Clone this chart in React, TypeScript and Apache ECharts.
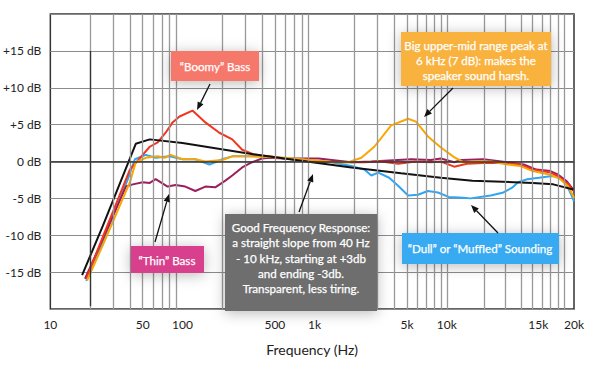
import React, { useEffect, useRef } from "react";
import * as echarts from "echarts";

// ---- axis layout helpers (log scale up to 10 kHz, compressed segment to 20 kHz) ----
const POS_10K = 4;
const POS_15K = 4 + 92 / 133;
const POS_20K_RAW = 4 + 128 / 133;

function pos(f: number): number {
  if (f <= 10000) return Math.log10(f);
  if (f <= 15000) return POS_10K + ((f - 10000) / 5000) * (POS_15K - POS_10K);
  return POS_15K + ((f - 15000) / 5000) * (POS_20K_RAW - POS_15K);
}

// ---- tick labels ----
const tickFreqs = [10, 50, 100, 500, 1000, 5000, 10000, 15000, 20000];
const tickLabels = ["10", "50", "100", "500", "1k", "5k", "10k", "15k", "20k"];
const yTicks = [-15, -10, -5, 0, 5, 10, 15];

// ---- series data: [frequency Hz, dB] ----
const goodCurve: [number, number][] = [
  [17.4, -15.4], [25, -8.7], [44.3, 2.4], [56.5, 3.0], [100, 2.5], [400, 0.8],
  [1898, -0.8], [4510, -1.6], [9000, -2.2], [11400, -2.6], [14700, -2.9],
  [17100, -3.1], [19900, -3.8],
];
const boomyCurve: [number, number][] = [
  [18.7, -15.9], [25, -10.2], [40, -1.1], [50, 0.9], [56.5, 2.0], [64.9, 2.6],
  [74.5, 3.9], [79.9, 4.7], [84.1, 5.3], [94.9, 6.1], [119, 6.9], [149, 5.3],
  [190, 3.9], [238, 3.0], [283, 1.6], [354, 0.9], [451, 0.7], [672, 0.3],
  [949, 0], [1898, -0.1], [2377, -0.1], [3190, 0], [4281, -0.3], [5848, 0],
  [7580, -0.1], [9015, 0], [10400, -0.7], [11100, -0.3], [12000, -0.2],
  [13300, -0.2], [14000, -0.4], [14700, -1.1], [16700, -1.5], [17800, -2.0],
  [19200, -3.1], [19900, -4.0],
];
const thinCurve: [number, number][] = [
  [18.3, -15.9], [25, -10.5], [37.3, -3.4], [42.1, -3.1], [50, -2.8], [56.5, -2.9],
  [62.7, -2.4], [77.1, -3.4], [88.6, -3.2], [105, -3.4], [125, -4.0], [149, -3.4],
  [177, -3.5], [211, -2.6], [238, -1.9], [283, -0.8], [336, -0.1], [400, 0.4],
  [451, 0.5], [595, 0.4], [1072, 0.4], [1898, -0.1], [2683, 0], [5362, 0.3],
  [7580, 0.2], [9015, 0.4], [10400, -0.1], [10800, 0.2], [12000, 0.3],
  [13300, -0.1], [14200, -0.4], [14900, -1.1], [16700, -1.3], [17800, -1.8],
  [19000, -2.7], [19900, -3.8],
];
const dullCurve: [number, number][] = [
  [18.7, -16.2], [25, -10.8], [38.6, -2.4], [43.6, 0.3], [52.7, 0.9], [62.7, 0.5],
  [79.9, 0.7], [100, 0.3], [125, 0.3], [160, -0.4], [200, 0.3], [238, 0.7],
  [319, 0.7], [400, 0.7], [595, 0.4], [799, 0.2], [1072, 0], [1342, -0.1],
  [1898, -0.6], [2377, -1.1], [2683, -1.9], [3028, -1.5], [3664, -2.2],
  [4281, -3.3], [5092, -4.6], [6053, -4.5], [7197, -4.0], [8557, -4.2],
  [10100, -4.8], [10900, -4.9], [11300, -5.0], [12400, -4.6], [13100, -4.2],
  [13600, -3.5], [13900, -2.8], [14400, -2.4], [15100, -2.2], [16700, -2.0],
  [17600, -2.0], [18800, -2.8], [19700, -4.7], [20000, -5.4],
];
const harshCurve: [number, number][] = [
  [19.0, -16.1], [25, -11.3], [40, -2.8], [44.3, -0.1], [52.7, 0.5], [64.9, 0.7],
  [73.2, 0.5], [81.2, 0.9], [100, 0.3], [125, 0.3], [149, 0], [200, 0.2],
  [238, 0.7], [319, 0.7], [595, 0.5], [1072, 0.1], [1414, -0.1], [1801, -0.1],
  [2256, 0.5], [2826, 2.0], [3793, 4.9], [5092, 5.8], [5848, 5.4], [7197, 3.4],
  [9015, 1.9], [10400, 0.6], [10900, -0.1], [11400, 0], [12400, 0], [13300, -0.4],
  [14000, -0.6], [14700, -1.3], [16700, -1.8], [18100, -2.4], [19200, -3.4],
  [19900, -4.7], [20000, -5.0],
];

const FONT = "Lato, 'Open Sans', sans-serif";

function arrow(x1: number, y1: number, x2: number, y2: number) {
  const ang = Math.atan2(y2 - y1, x2 - x1);
  const L = 8;
  const W = 3.2;
  const bx = x2 - L * Math.cos(ang);
  const by = y2 - L * Math.sin(ang);
  const px = -Math.sin(ang) * W;
  const py = Math.cos(ang) * W;
  return [
    { type: "line", z: 100, shape: { x1, y1, x2: bx, y2: by }, style: { stroke: "#111", lineWidth: 1.3 } },
    { type: "polygon", z: 100, shape: { points: [[x2, y2], [bx + px, by + py], [bx - px, by - py]] }, style: { fill: "#111" } },
  ];
}

function box(x: number, y: number, w: number, h: number, color: string, text: string, tx: number, ty: number, lh = 15) {
  return [
    {
      type: "rect", z: 90, shape: { x, y, width: w, height: h },
      style: { fill: color, shadowBlur: 14, shadowColor: "rgba(0,0,0,0.28)", shadowOffsetY: 2 },
    },
    {
      type: "text", z: 91, x: tx, y: ty,
      style: {
        text, fill: "#fff", fontSize: 11.6, fontFamily: FONT, fontWeight: "normal",
        align: "center", verticalAlign: "middle", lineHeight: lh,
        stroke: "#fff", lineWidth: 0.25,
      },
    },
  ];
}

export default function App() {
  const ref = useRef<HTMLDivElement>(null);
  useEffect(() => {
    if (!ref.current) return;
    const chart = echarts.init(ref.current, undefined, { renderer: "svg" });
    const xMax = pos(20000);
    const gridFreqs: number[] = [];
    [10, 100, 1000].forEach((d) => {
      for (let k = 2; k <= 9; k++) gridFreqs.push(d * k);
    });
    gridFreqs.push(10000);
    const gridPositions = gridFreqs.map(pos);
    for (let k = 2; k <= 9; k++) gridPositions.push(POS_10K + 0.93 * Math.log10(k));

    const mk = (d: [number, number][]) => d.map(([f, v]) => [pos(f), v]);
    const lineSeries = (name: string, d: [number, number][], color: string, z: number) => ({
      name, type: "line", data: mk(d), showSymbol: false, symbol: "none", z,
      lineStyle: { color, width: 2 }, silent: true,
    });

    const graphics: any[] = [
      ...box(171, 51, 88, 30, "#f6786b", "\u201cBoomy\u201d Bass", 215, 66),
      ...arrow(210, 84, 197, 110),
      ...box(401, 32, 150, 54, "#f8b23e", "Big upper-mid range peak at\n6 kHz (7 dB): makes the\nspeaker sound harsh.", 476, 60),
      ...arrow(453, 88, 424, 117),
      ...box(131, 246, 73, 27, "#d8418d", "\u201cThin\u201d Bass", 167, 260),
      ...arrow(155, 242, 169, 194),
      ...box(225, 214, 152, 97, "#6e6e6e", "Good Frequency Response:\na straight slope from 40 Hz\n- 10 kHz, starting at +3db\nand ending -3db.\nTransparent, less tiring.", 301, 258, 15.4),
      ...arrow(299, 212, 313, 174),
      ...box(402, 233, 157, 31, "#38aaf1", "\u201cDull\u201d or \u201cMuffled\u201d Sounding", 480, 248),
      ...arrow(498, 233, 471, 205),
    ];

    const vLine = (p: number) => [
      { coord: [p, -20], lineStyle: { color: "#999999", width: 1.3, type: "solid", opacity: 1 } },
      { coord: [p, 20] },
    ];

    chart.setOption({
      animation: false,
      grid: {
        left: 47, right: 26, top: 14, bottom: 68, show: true,
        borderColor: "#333", borderWidth: 1.5, backgroundColor: "#fff",
      },
      xAxis: {
        type: "value", min: 1, max: xMax,
        axisLine: { show: false }, axisTick: { show: false }, splitLine: { show: false },
        axisLabel: {
          customValues: tickFreqs.map(pos),
          formatter: (v: number) => {
            const i = tickFreqs.findIndex((f) => Math.abs(pos(f) - v) < 1e-6);
            return i >= 0 ? tickLabels[i] : "";
          },
          color: "#222", fontSize: 12, fontFamily: FONT, margin: 9,
        },
        name: "Frequency (Hz)", nameLocation: "middle", nameGap: 33,
        nameTextStyle: { fontSize: 14, color: "#222", fontFamily: FONT },
      },
      yAxis: {
        type: "value", min: -20, max: 20, interval: 5,
        axisLine: { show: false }, axisTick: { show: false },
        splitLine: { lineStyle: { color: "#8c8c8c", width: 1.1 } },
        axisLabel: {
          customValues: yTicks,
          formatter: (v: number) => (v > 0 ? `+${v} dB` : `${v} dB`),
          color: "#222", fontSize: 12, fontFamily: FONT, margin: 9,
        },
      },
      series: [
        {
          type: "line", data: [[1, 0]], showSymbol: false, symbol: "none", z: 1, silent: true,
          markLine: {
            silent: true, symbol: ["none", "none"], label: { show: false },
            lineStyle: { color: "#999999", width: 1.3, type: "solid", opacity: 1 },
            emphasis: { disabled: true },
            data: [
              ...gridPositions.map(vLine),
              [
                { coord: [1, 0], lineStyle: { color: "#333", width: 1.5, type: "solid", opacity: 1 } },
                { coord: [xMax, 0] },
              ],
              [
                { coord: [pos(20), 15], lineStyle: { color: "#333", width: 1.3, type: "solid", opacity: 1 } },
                { coord: [pos(20), -19.6] },
              ],
            ],
          },
        },
        lineSeries("Dull", dullCurve, "#2ea6f3", 3),
        lineSeries("Thin", thinCurve, "#9b1f5c", 3),
        lineSeries("Boomy", boomyCurve, "#f2351f", 3),
        lineSeries("Harsh", harshCurve, "#fba600", 3),
        lineSeries("Good", goodCurve, "#111111", 4),
      ],
      graphic: graphics,
    });
    return () => chart.dispose();
  }, []);
  return <div ref={ref} style={{ width: 600, height: 377, position: "absolute", left: 0, top: 0, background: "#fff" }} />;
}
